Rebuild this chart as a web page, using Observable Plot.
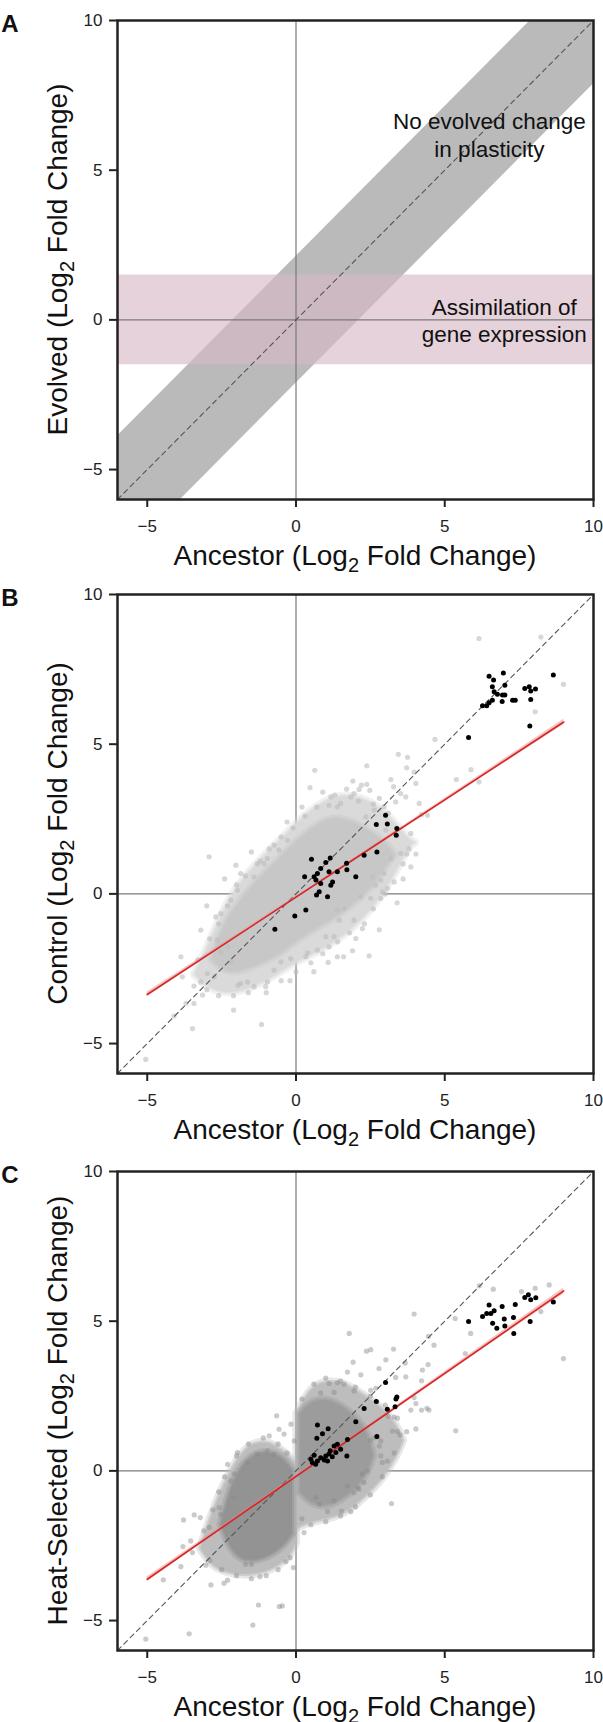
<!DOCTYPE html>
<html><head><meta charset="utf-8">
<script src="https://cdn.jsdelivr.net/npm/d3@7"></script>
<script src="https://cdn.jsdelivr.net/npm/@observablehq/plot@0.6"></script>
<style>
body{margin:0;background:#fff;}
#chart{width:603px;}
#chart svg{display:block;overflow:visible;}
</style></head><body><div id="chart"></div>
<script>
// ---------- data ----------
const axisDomain = [-6, 10];
const axisTicks = [-5, 0, 5, 10];
const panelLetters = ["A", "B", "C"];
const yLabelNames = ["Evolved", "Control", "Heat-Selected"];
const xLabelName = "Ancestor";
const diagX = [-6, 10];
const plasticityHalfWidth = 2.12;
const assimLo = [-1.5], assimHi = [1.5];
const notes = [
  {x: 6.5, y: 6.2, text: "No evolved change\nin plasticity"},
  {x: 7.0, y: 0.0, text: "Assimilation of\ngene expression"}
];

// Panel B: cloud envelopes [x, lower y, upper y]
const outerB = [[-3.4,-2.7,-2.7],[-3.0,-3.1,-1.9],[-2.5,-3.3,-0.7],[-2.0,-3.3,0.2],[-1.4,-3.1,0.9],[-0.8,-2.8,1.5],[-0.2,-2.4,2.1],[0.4,-2.1,2.7],[1.0,-1.8,3.1],[1.6,-1.4,3.3],[2.2,-0.9,3.2],[2.8,-0.2,2.9],[3.3,0.6,2.4],[3.8,1.6,1.8],[4.0,1.7,1.7]];
const coreB = [[-2.8,-2.2,-2.2],[-2.4,-2.6,-1.0],[-1.9,-2.6,-0.3],[-1.4,-2.4,0.3],[-0.9,-2.2,0.8],[-0.4,-1.9,1.3],[0.1,-1.5,1.8],[0.6,-1.2,2.2],[1.1,-0.9,2.5],[1.6,-0.6,2.5],[2.1,-0.2,2.3],[2.6,0.3,2.0],[3.0,0.9,1.7],[3.3,1.3,1.3]];
const greyB = [[6.15,8.53],[8.23,8.58],[8.99,7.0],[8.04,6.08],[4.67,5.16],[5.88,4.15],[5.39,3.82],[6.15,3.74],[3.44,4.66],[3.75,4.56],[2.38,4.28],[0.63,4.13],[3.72,4.21],[3.97,4.07],[1.91,3.77],[0.47,3.55],[2.2,3.63],[2.38,3.66],[2.48,3.46],[3.19,3.82],[3.28,3.58],[3.52,3.35],[3.35,3.07],[3.69,3.24],[4.03,3.69],[4.14,3.02],[4.22,2.65],[4.42,2.63],[1.17,3.24],[1.11,2.96],[1.39,2.91],[1.5,3.02],[1.84,3.24],[1.95,3.35],[2.12,3.49],[2.8,3.19],[2.96,2.91],[2.63,2.8],[2.35,2.57],[3.86,2.02],[3.02,2.13],[3.52,1.35],[3.72,1.33],[4.03,1.33],[3.86,0.9],[3.19,1.18],[2.96,0.68],[2.85,0.46],[2.57,0.57],[2.51,-0.15],[2.85,-0.15],[2.91,0.07],[2.68,0.29],[3.07,0.18],[2.23,-1.16],[2.01,-1.49],[2.46,-2.07],[1.6,-2.1],[1.39,-2.1],[1.08,-2.29],[1.11,-1.77],[1.0,-1.43],[1.28,-1.43],[1.45,-0.88],[1.95,-0.88],[0.72,-1.88],[0.39,-1.97],[0.33,-2.1],[1.39,-0.54],[1.62,-0.49],[2.18,-0.1],[-5.05,-5.53],[-3.48,-4.5],[-1.16,-4.36],[-2.1,-3.88],[-4.1,-4.08],[-3.43,-3.66],[-3.14,-3.38],[-3.7,-3.66],[-3.43,-3.08],[-3.2,-2.94],[-2.98,-2.66],[-2.75,-2.77],[-3.82,-2.77],[-3.87,-2.1],[-3.2,-1.21],[-2.92,1.24],[-2.02,0.96],[-1.86,0.68],[-1.41,0.57],[-1.3,1.01],[-1.07,1.01],[-0.96,1.18],[-0.74,1.63],[-0.57,1.46],[-0.29,1.79],[-2.64,-1.55],[-2.19,-2.27],[-1.86,-2.99],[-1.41,-3.1],[-1.02,-3.1],[-0.51,-2.27],[-0.18,-2.16],[-0.74,-2.55],[-0.96,-2.94],[-1.95,-3.05],[-1.63,-2.94],[-2.53,-1.94],[-2.3,-1.77],[-2.19,-0.21],[-1.97,0.12],[-2.53,-0.66],[-2.7,-0.77],[-0.3,2.4],[0.2,2.9],[0.9,3.4],[-1.5,1.4],[-2.4,0.5],[-3.0,-0.4],[-0.2,-2.9],[0.6,-2.6],[1.9,-1.9],[2.8,-1.2],[3.4,-0.3],[3.6,0.5],
  [-3.3,-2.2],[-2.9,-1.5],[-2.6,-1.0],[-2.3,-0.4],[-2.0,0.3],[-1.7,0.6],[-1.2,1.1],[-0.9,1.5],[-0.5,1.9],[-0.1,2.2],[0.3,2.6],[0.7,2.9],[1.3,3.3],[1.7,3.5],[2.1,3.1],[2.6,3.0],[3.1,2.7],
  [-3.0,-3.2],[-2.6,-3.4],[-2.1,-3.4],[-1.6,-3.3],[-1.0,-3.3],[-0.5,-2.9],[0.0,-2.6],[0.5,-2.3],[0.9,-2.0],[1.4,-1.6],[1.8,-1.3],[2.3,-1.0],[2.6,-0.5],[3.0,0.0],[3.3,0.4],[3.6,1.0],[3.8,1.5]];
const blackB = [[6.49,7.27],[6.97,7.38],[6.64,7.14],[6.60,6.92],[7.02,6.97],[6.66,6.75],[6.77,6.67],[6.94,6.64],[7.02,6.64],[6.27,6.28],[6.41,6.28],[6.49,6.38],[6.60,6.47],[6.93,6.43],[7.28,6.47],[7.37,6.47],[7.69,6.86],[7.84,6.92],[7.89,6.78],[8.05,6.84],[7.89,6.49],[8.65,7.31],[7.86,5.61],[5.80,5.22],[3.01,2.63],[2.70,2.32],[3.07,2.33],[3.39,2.18],[3.37,1.96],[2.72,1.40],[2.29,1.29],[2.01,0.57],[1.71,0.81],[1.70,1.02],[0.52,1.16],[1.15,1.20],[1.0,1.05],[0.83,0.85],[0.72,0.68],[0.61,0.57],[0.29,0.57],[0.67,0.46],[0.83,0.35],[0.69,-0.04],[0.78,0.07],[1.06,-0.10],[1.17,0.29],[1.23,0.40],[1.11,0.74],[1.39,0.74],[0.33,-0.54],[-0.71,-1.18],[-0.04,-0.74]];
const fitXB = [-5, 2, 9], fitYB = [-3.36, 1.19, 5.74], ciB = [0.08, 0.03, 0.09];

// Panel C: cloud envelopes
const outerCLeft = [[-3.2,-2.6,-2.6],[-2.8,-3.2,-1.4],[-2.3,-3.4,-0.2],[-1.7,-3.5,0.8],[-1.1,-3.4,1.0],[-0.6,-3.2,0.8],[-0.15,-2.8,0.4],[0.0,-2.4,0.2]];
const coreCLeft = [[-2.5,-1.8,-1.8],[-2.2,-2.6,-0.6],[-1.8,-3.0,0.2],[-1.3,-3.0,0.6],[-0.8,-2.8,0.6],[-0.4,-2.5,0.4],[-0.12,-2.1,0.0]];
const outerCRight = [[0.05,-1.9,1.9],[0.5,-1.7,2.8],[1.1,-1.6,3.0],[1.7,-1.4,2.9],[2.3,-0.9,2.5],[2.9,-0.3,2.1],[3.4,0.5,1.5],[3.6,1.0,1.0]];
const coreCRight = [[0.15,-0.7,1.9],[0.5,-1.1,2.3],[1.0,-1.2,2.4],[1.5,-1.0,2.2],[2.0,-0.6,1.8],[2.4,-0.1,1.3],[2.6,0.5,0.5]];
const greyC = [[6.16,6.18],[6.63,6.07],[7.58,5.99],[8.04,6.10],[8.51,6.21],[8.23,5.32],[8.99,3.75],[5.87,4.59],[5.35,5.09],[5.69,3.92],[5.37,1.34],[3.97,5.24],[4.64,4.20],[4.45,4.49],[1.79,4.59],[2.37,4.0],[2.51,4.05],[3.28,4.07],[1.92,3.63],[3.02,3.71],[2.79,3.42],[4.44,3.55],[4.25,3.37],[3.67,3.60],[3.35,3.12],[3.69,3.14],[4.22,3.01],[1.73,3.30],[2.18,3.21],[1.11,2.92],[1.39,2.95],[1.62,2.9],[0.83,2.6],[1.28,2.62],[1.95,2.67],[2.51,2.69],[2.68,2.76],[3.97,2.45],[4.03,2.25],[3.86,2.03],[4.22,2.03],[4.4,2.09],[4.47,2.03],[4.03,1.4],[3.72,1.31],[3.41,1.31],[3.24,1.33],[3.41,1.76],[3.1,1.82],[3.21,-1.09],[1.84,-1.36],[1.53,-1.34],[1.06,-1.36],[1.95,-0.73],[2.07,-0.56],[2.12,-0.61],[1.73,-0.5],[1.28,-1.0],[0.78,-1.11],[0.66,-0.89],[0.27,-2.06],[3.07,0.33],[2.9,0.28],[2.85,0.5],[2.8,0.83],[2.85,1.0],[2.65,1.11],[2.5,1.02],[2.4,0.0],[2.23,-0.11],[2.29,-0.39],[-5.05,-5.62],[-3.59,-5.44],[-1.45,-5.15],[-1.26,-4.48],[-0.56,-4.53],[-0.46,-4.51],[-4.46,-3.64],[-2.86,-3.81],[-2.42,-3.75],[-2.30,-3.65],[-3.87,-3.20],[-1.21,-3.53],[-1.5,-3.12],[-1.7,-3.12],[-0.34,-3.03],[-0.09,-3.23],[-3.78,-1.64],[-3.42,-1.47],[-3.22,-1.56],[-3.8,-2.53],[-3.54,-2.34],[-3.48,-2.73],[-2.92,-1.89],[-3.03,-3.15],[-2.3,0.22],[-1.97,0.61],[-1.63,0.28],[-1.3,0.56],[-0.96,0.67],[-0.74,0.56],[-2.08,-0.1],[-2.08,-0.89],[-2.2,-0.33],[-2.58,-1.23],[-2.53,-1.45],[-0.65,1.84],[-0.9,1.17],[-0.57,1.39],[-0.4,1.23],[-0.17,1.56],[-0.06,1.0],
  [-3.1,-2.0],[-2.8,-1.3],[-2.6,-0.7],[-2.4,-0.2],[-2.0,0.5],[-1.6,0.9],[-1.1,1.1],[-0.6,0.9],[-0.3,0.6],[-2.9,-3.0],[-2.5,-3.3],[-2.0,-3.5],[-1.5,-3.6],[-1.0,-3.5],[-0.6,-3.3],[-0.2,-2.9],
  [0.2,2.4],[0.6,2.9],[1.0,3.1],[1.5,3.0],[2.0,2.8],[2.5,2.5],[3.0,2.2],[3.3,1.8],[3.5,1.2],[3.3,0.6],[2.9,-0.2],[2.5,-0.8],[2.0,-1.2],[1.5,-1.5],[1.0,-1.7],[0.5,-1.8],[0.2,-1.6]];
const blackC = [[5.80,4.99],[6.27,5.16],[6.41,5.26],[6.49,5.54],[6.55,5.26],[6.66,5.35],[6.61,4.93],[6.75,4.76],[6.93,5.49],[7.0,5.07],[7.02,4.84],[7.31,5.12],[7.37,5.56],[7.32,4.59],[7.69,5.79],[7.81,5.88],[7.89,5.72],[8.06,5.78],[7.87,4.99],[8.65,5.64],[3.01,2.95],[2.70,2.32],[2.29,2.08],[2.01,1.64],[3.39,2.47],[3.36,2.40],[3.07,2.06],[3.33,2.14],[2.72,1.15],[0.72,1.53],[0.89,1.24],[1.08,1.41],[1.73,1.05],[0.70,1.09],[1.71,0.50],[1.39,0.89],[1.28,0.83],[1.15,0.67],[1.11,0.56],[1.0,0.50],[0.95,0.36],[0.83,0.44],[0.72,0.33],[0.66,0.22],[0.61,0.52],[0.55,0.28],[0.50,0.39],[1.06,0.33],[1.22,0.47],[1.34,0.61],[1.50,0.72]];
const fitXC = [-5, 2, 9], fitYC = [-3.62, 1.19, 6.01], ciC = [0.08, 0.03, 0.1];

// ---------- drawing ----------
const FONT = "'Liberation Sans', Arial, Helvetica, sans-serif";
const fmt = d => (d < 0 ? "\u2212" + (-d) : String(d));
const PLOT_H = 479;

function makePanel(i, marks, mt, mb) {
  const plot = Plot.plot({
    width: 603, height: mt + PLOT_H + mb,
    marginLeft: 117, marginRight: 10, marginTop: mt, marginBottom: mb,
    x: {domain: axisDomain}, y: {domain: axisDomain},
    style: {fontFamily: FONT, fontSize: "17px", color: "#222", background: "#fff"},
    marks: [
      ...marks,
      Plot.frame({stroke: "#222", strokeWidth: 2.5}),
      Plot.axisX({ticks: axisTicks, tickSize: 8, tickPadding: 12, tickFormat: fmt, strokeWidth: 2, label: null}),
      Plot.axisY({ticks: axisTicks, tickSize: 8, tickPadding: 7, tickFormat: fmt, strokeWidth: 2, label: null})
    ]
  });
  const svg = d3.select(plot);
  const cx = 117 + (603 - 117 - 10) / 2;
  const cy = mt + PLOT_H / 2;
  const xt = svg.append("text").attr("x", cx).attr("y", mt + PLOT_H + 66)
    .attr("text-anchor", "middle").style("font-family", FONT).style("font-size", "28px").attr("fill", "#111");
  xt.append("tspan").text(xLabelName + " (Log");
  xt.append("tspan").attr("dy", 7).style("font-size", "20px").text("2");
  xt.append("tspan").attr("dy", -7).text(" Fold Change)");
  const yt = svg.append("text").attr("transform", `translate(67,${cy}) rotate(-90)`)
    .attr("text-anchor", "middle").style("font-family", FONT).style("font-size", "28px").attr("fill", "#111");
  yt.append("tspan").text(yLabelNames[i] + " (Log");
  yt.append("tspan").attr("dy", 7).style("font-size", "20px").text("2");
  yt.append("tspan").attr("dy", -7).text(" Fold Change)");
  svg.append("text").attr("x", 10).attr("y", mt + 12).style("font-family", FONT)
    .style("font-size", "24px").style("font-weight", "bold").attr("fill", "#111").text(panelLetters[i]);
  return plot;
}

const zeroMarks = [
  Plot.ruleX([0], {stroke: "#7a7a7a", strokeWidth: 1.2}),
  Plot.ruleY([0], {stroke: "#7a7a7a", strokeWidth: 1.2})
];
const diagMark = Plot.line(diagX, {x: d => d, y: d => d, stroke: "#555", strokeWidth: 1.1, strokeDasharray: "5,4"});

const panelA = makePanel(0, [
  Plot.areaY(diagX, {x: d => d, y1: d => d - plasticityHalfWidth, y2: d => d + plasticityHalfWidth, fill: "#bababa", clip: true}),
  Plot.areaY(diagX, {x: d => d, y1: () => assimLo[0], y2: () => assimHi[0], fill: "#d7b9c5", fillOpacity: 0.64}),
  ...zeroMarks,
  diagMark,
  Plot.text(notes, {x: "x", y: "y", text: "text", fontSize: 22.5, lineHeight: 1.22, fill: "#111", fontFamily: FONT})
], 20, 76);

function scatterPanel(i, layers, grey, black, fitX, fitY, ci, dotFill, dotOpacity, mt, mb) {
  const fit = fitX.map((x, k) => ({x, y: fitY[k], lo: fitY[k] - ci[k], hi: fitY[k] + ci[k]}));
  // each dense layer: filled envelope with a translucent halo to soften its edge
  const cloud = layers.flatMap(c => [
    Plot.areaY(c.data, {x: d => d[0], y1: d => d[1], y2: d => d[2], fill: c.fill, fillOpacity: 0, stroke: c.fill, strokeWidth: 9, strokeOpacity: 0.35, strokeLinejoin: "round", curve: "basis"}),
    Plot.areaY(c.data, {x: d => d[0], y1: d => d[1], y2: d => d[2], fill: c.fill, stroke: c.fill, strokeWidth: 4, strokeOpacity: 0.6, strokeLinejoin: "round", curve: "basis"})
  ]);
  return makePanel(i, [
    ...zeroMarks,
    ...cloud,
    Plot.dot(grey, {x: d => d[0], y: d => d[1], r: 2.6, fill: dotFill, fillOpacity: dotOpacity, stroke: "none"}),
    diagMark,
    Plot.areaY(fit, {x: "x", y1: "lo", y2: "hi", fill: "#e88", fillOpacity: 0.5, curve: "natural"}),
    Plot.line(fit, {x: "x", y: "y", stroke: "#d62728", strokeWidth: 1.6}),
    Plot.dot(black, {x: d => d[0], y: d => d[1], r: 2.5, fill: "#000", stroke: "none"})
  ], mt, mb);
}

const panelB = scatterPanel(1, [{data: outerB, fill: "#dadada"}, {data: coreB, fill: "#c7c7c7"}], greyB, blackB, fitXB, fitYB, ciB, "#bdbdbd", 0.6, 19, 77);
const panelC = scatterPanel(2, [
  {data: outerCLeft, fill: "#bdbdbd"}, {data: outerCRight, fill: "#bdbdbd"},
  {data: coreCLeft, fill: "#939393"}, {data: coreCRight, fill: "#9c9c9c"}
], greyC, blackC, fitXC, fitYC, ciC, "#8a8a8a", 0.45, 21, 72);

document.getElementById("chart").append(panelA, panelB, panelC);
</script></body></html>
